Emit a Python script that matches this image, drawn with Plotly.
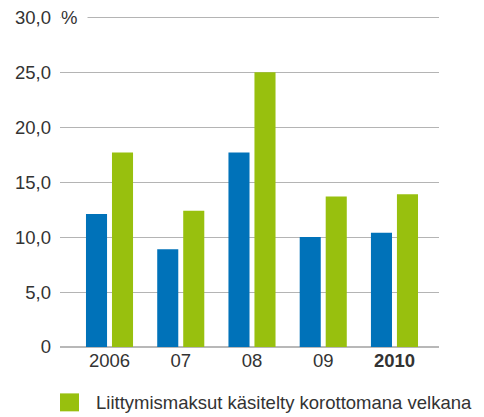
import plotly.graph_objects as go

categories = ["2006", "07", "08", "09", "2010"]
tick_labels = ["2006", "07", "08", "09", "<b>2010</b>"]
blue_values = [12.1, 8.9, 17.7, 10.0, 10.4]
green_values = [17.7, 12.4, 25.0, 13.7, 13.9]
green_name = "Liittymismaksut käsitelty korottomana velkana"
blue_name = "Liittymismaksut käsitelty omana pääomana"
y_ticks = [0, 5, 10, 15, 20, 25, 30]
y_tick_text = ["0", "5,0", "10,0", "15,0", "20,0", "25,0", "30,0"]

BLUE = "#0072B9"
GREEN = "#98C00E"
TEXT = "#333333"
FONT = "Liberation Sans, Arial, sans-serif"
FS = 18.5

fig = go.Figure()
fig.add_trace(go.Bar(x=categories, y=blue_values, name=blue_name,
                     marker=dict(color=BLUE, line=dict(width=0)), showlegend=False))
fig.add_trace(go.Bar(x=categories, y=green_values, name=green_name,
                     marker=dict(color=GREEN, line=dict(width=0)), showlegend=False))

# page body has an 8px default margin; compensate so the plot lands where the reference has it
OFF = 8
W, H = 484 - OFF, 417 - OFF
Y_TOP = 30.3
bottom_screen = 347.5
unit = (347.5 - 17) / 30.0
top_screen = bottom_screen - unit * Y_TOP
ml, mr = 60 - OFF, 45
mt = top_screen - OFF
mb = H - mt - (bottom_screen - top_screen)
ph = bottom_screen - top_screen
pw = W - ml - mr

def py(pix):
    return (bottom_screen - pix) / ph

def px(pix):
    return (pix - 60) / pw

fig.update_layout(
    width=W, height=H,
    margin=dict(l=ml, r=mr, t=mt, b=mb, pad=0, autoexpand=False),
    paper_bgcolor="white", plot_bgcolor="white",
    barmode="group", bargap=0.27, bargroupgap=0.19,
    font=dict(family=FONT, size=FS, color=TEXT),
    xaxis=dict(
        type="category", range=[-0.695, 4.625],
        tickvals=categories, ticktext=tick_labels,
        showgrid=False, showline=False, zeroline=False, ticks="",
        tickfont=dict(size=FS, color=TEXT), automargin=False,
        ticklabeloverflow="allow",
    ),
    yaxis=dict(
        range=[0, Y_TOP], tickvals=y_ticks, ticktext=y_tick_text,
        showgrid=True, gridcolor="#b4b4b4", gridwidth=1.2,
        zeroline=True, zerolinecolor="#b8b8b8", zerolinewidth=2.2,
        showline=False, ticks="", ticklabelstandoff=8,
        tickfont=dict(size=FS, color=TEXT), automargin=False,
        ticklabeloverflow="allow",
    ),
    showlegend=False,
    shapes=[
        dict(type="rect", xref="paper", yref="paper",
             x0=px(60), x1=px(79), y0=py(412), y1=py(394),
             fillcolor=GREEN, line=dict(width=0)),
    ],
    annotations=[
        dict(text="%", xref="paper", yref="y", x=0, y=30,
             xanchor="left", yanchor="middle", showarrow=False,
             bgcolor="white", width=26, align="left", borderpad=0,
             font=dict(size=FS, color=TEXT)),
        dict(text=green_name, xref="paper", yref="paper",
             x=px(94), y=py(403), xanchor="left", yanchor="middle",
             showarrow=False, font=dict(size=FS, color=TEXT)),
    ],
)

fig.write_html("out.html")
